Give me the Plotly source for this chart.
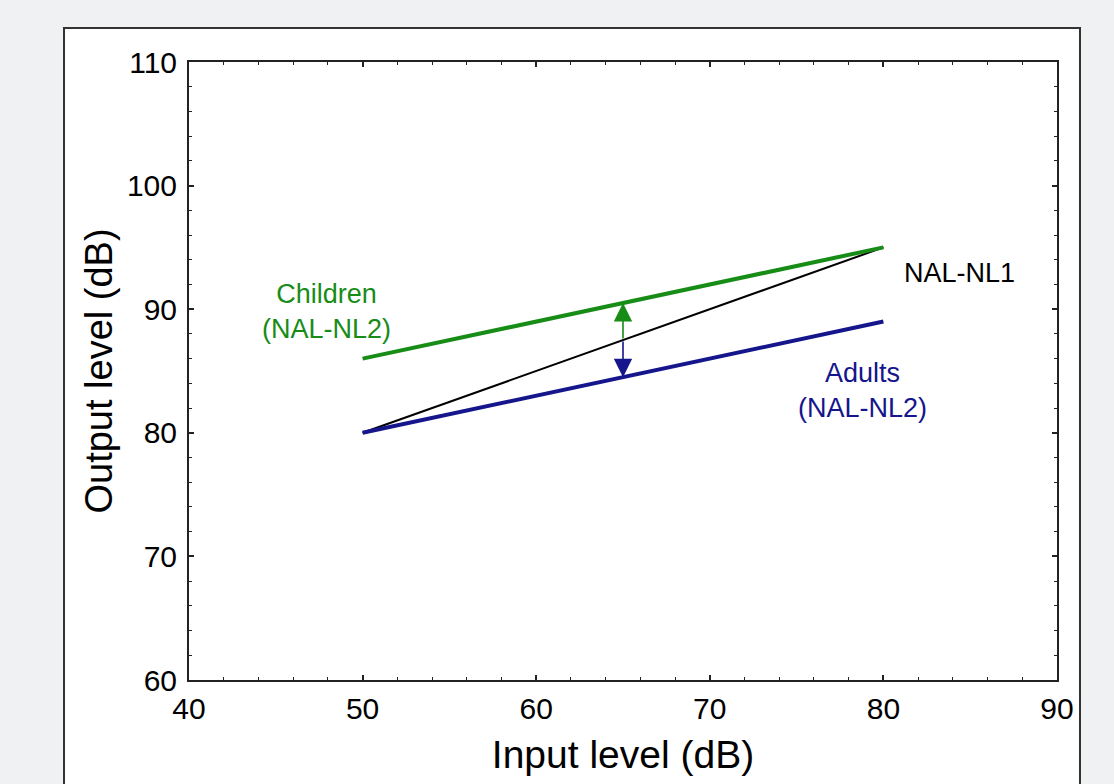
import plotly.graph_objects as go

# Data
input_levels = [50, 80]
children_nl2 = [86, 95]
adults_nl2 = [80, 89]
nal_nl1 = [80, 95]
arrow_x = 65
arrow_mid = 87.5
arrow_children = 90.5
arrow_adults = 84.5

x_ticks = [40, 50, 60, 70, 80, 90]
y_ticks = [60, 70, 80, 90, 100, 110]

GREEN = "#178c17"
BLUE = "#15158c"
FONT = "Liberation Sans, Arial, sans-serif"

fig = go.Figure()
fig.add_trace(go.Scatter(x=input_levels, y=nal_nl1, mode="lines",
                         line=dict(color="black", width=2), showlegend=False))
fig.add_trace(go.Scatter(x=input_levels, y=children_nl2, mode="lines",
                         line=dict(color=GREEN, width=4), showlegend=False))
fig.add_trace(go.Scatter(x=input_levels, y=adults_nl2, mode="lines",
                         line=dict(color=BLUE, width=4), showlegend=False))

# arrows
fig.add_annotation(x=arrow_x, y=arrow_children, ax=arrow_x, ay=arrow_mid,
                   xref="x", yref="y", axref="x", ayref="y", text="",
                   showarrow=True, arrowhead=2, arrowsize=2.3, arrowwidth=1.6,
                   arrowcolor=GREEN, standoff=0, startstandoff=0)
fig.add_annotation(x=arrow_x, y=arrow_adults, ax=arrow_x, ay=arrow_mid,
                   xref="x", yref="y", axref="x", ayref="y", text="",
                   showarrow=True, arrowhead=2, arrowsize=2.3, arrowwidth=1.6,
                   arrowcolor=BLUE, standoff=0, startstandoff=0)

# labels
fig.add_annotation(x=47.9, y=89.85, text="Children<br>(NAL-NL2)", showarrow=False,
                   font=dict(color=GREEN, size=27, family=FONT))
fig.add_annotation(x=84.4, y=92.93, text="NAL-NL1", showarrow=False,
                   font=dict(color="black", size=27, family=FONT))
fig.add_annotation(x=78.8, y=83.4, text="Adults<br>(NAL-NL2)", showarrow=False,
                   font=dict(color=BLUE, size=27, family=FONT))

# white panel
fig.add_shape(type="rect", xref="paper", yref="paper",
              x0=-0.144, x1=1.0265, y0=-0.35, y1=1.055,
              fillcolor="white", line=dict(color="#333333", width=2), layer="below")

axis_common = dict(showline=True, linecolor="#222222", linewidth=2, mirror="allticks",
                   ticks="inside", ticklen=5, tickwidth=1.5, tickcolor="#222222",
                   showgrid=False, zeroline=False,
                   tickfont=dict(size=30, family=FONT, color="black"),
                   minor=dict(ticks="inside", dtick=2, ticklen=3, tickwidth=1,
                              tickcolor="#222222", showgrid=False))

fig.update_xaxes(range=[40, 90], tickvals=x_ticks, ticklabelstandoff=1,
                 title=dict(text="Input level (dB)", font=dict(size=39, family=FONT, color="black"),
                            standoff=17),
                 **axis_common)
fig.update_yaxes(range=[60, 110], tickvals=y_ticks, ticklabelstandoff=4,
                 title=dict(text="Output level (dB)", font=dict(size=38, family=FONT, color="black"),
                            standoff=3),
                 **axis_common)

fig.update_layout(width=1114, height=784,
                  margin=dict(l=189, r=57, t=62, b=104),
                  paper_bgcolor="#f0f1f3", plot_bgcolor="white",
                  font=dict(family=FONT))

fig.write_html("out.html")
